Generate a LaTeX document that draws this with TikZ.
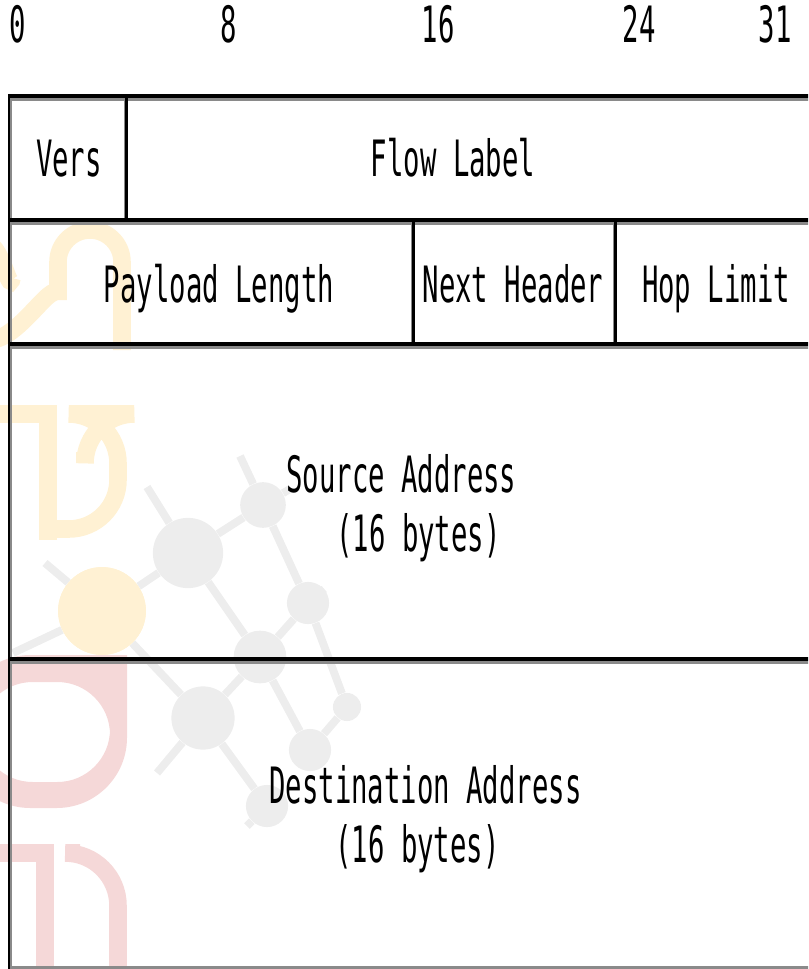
\documentclass[tikz,border=0pt]{standalone}
\usepackage{fontspec}
\newfontfamily\hdrfont[FakeStretch=0.545]{DejaVu Sans Mono}
\definecolor{wmyellow}{HTML}{FFF1D3}
\definecolor{wmred}{HTML}{F5D8D8}
\definecolor{wmgrey}{HTML}{EDEDED}
\definecolor{rulegrey}{HTML}{8A8A8A}
\begin{document}
\begin{tikzpicture}[x=0.02cm,y=-0.02cm,
  txt/.style={font=\hdrfont\fontsize{28.5pt}{34pt}\selectfont, inner sep=0pt},
  wm/.style={line width=10pt},
  net/.style={wmgrey, line width=4.5pt},
  dot/.style={circle, fill=wmgrey, inner sep=0pt}]
\useasboundingbox (0,0) rectangle (808,969);
\clip (0,0) rectangle (808,969);
\draw[wm, wmyellow] (-10,340) to[out=0,in=90] (58,300) -- (58,262) arc[start angle=180, end angle=360, radius=32] -- (122,350);
\draw[wm, wmyellow] (-15,244) to[out=10,in=-100] (12,278);
\draw[wm, wmyellow] (-10,414) -- (48,414) -- (48,540);
\draw[wm, wmyellow, rounded corners=28] (85,452) -- (85,414) -- (118,414) -- (118,529) -- (48,529);
\fill[wmred, even odd rule] (-40,655) -- (127,655) [rounded corners=40] -- (127,808) -- (-40,808) -- cycle [rounded corners=30] (-20,682) rectangle (110,782);
\draw[wm, wmred] (-10,853) -- (45,853) -- (45,990);
\draw[wm, wmred, rounded corners=30] (80,853) -- (118,853) -- (118,990);
\node[dot, minimum size=40] (n1) at (188,553){};
\node[dot, minimum size=26] (n2) at (263,505){};
\node[dot, minimum size=24] (n3) at (308,603){};
\node[dot, minimum size=30] (n4) at (260,657){};
\node[dot, minimum size=36] (n5) at (203,718){};
\node[dot, minimum size=24] (n6) at (310,750){};
\node[dot, minimum size=24] (n7) at (267,806){};
\node[dot, minimum size=16] (n8) at (347,707){};
\coordinate (e1) at (240,456);
\coordinate (e2) at (147,487);
\coordinate (e3) at (13,653);
\coordinate (e4) at (45,563);
\coordinate (e5) at (157,773);
\coordinate (e6) at (247,826);
\coordinate (e7) at (322,591);
\coordinate (e8) at (290,489);
\draw[net](n2) -- (e1);
\draw[net](n1) -- (e2);
\draw[net](n1) -- (n2);
\draw[net](n1) -- (n4);
\draw[net](n2) -- (n3);
\draw[net](n3) -- (n4);
\draw[net](n3) -- (n8);
\draw[net](n4) -- (n5);
\draw[net](n4) -- (n6);
\draw[net](n6) -- (n8);
\draw[net](n5) -- (e5);
\draw[net](n5) -- (n7);
\draw[net](n7) -- (e6);
\draw[net](n3) -- (e7);
\draw[net](n2) -- (e8);
\node[circle, fill=wmyellow, inner sep=0pt, minimum size=50] (y0) at (102,611){};
\draw[net](y0) -- (n1);
\draw[net](y0) -- (n5);
\draw[net](y0) -- (e3);
\draw[net](y0) -- (e4);
\node[circle, fill=wmyellow, inner sep=0pt, minimum size=50] at (102,611){};
\draw[rulegrey, line width=1.7pt] (8,99.5) -- (820,99.5);
\draw[rulegrey, line width=1.7pt] (8,223.5) -- (820,223.5);
\draw[rulegrey, line width=1.7pt] (8,347.5) -- (820,347.5);
\draw[rulegrey, line width=1.7pt] (8,662.5) -- (820,662.5);
\draw[rulegrey, line width=1.2pt] (8,967.5) -- (820,967.5);
\draw[rulegrey, line width=0.9pt] (11,96) -- (11,969);
\draw[rulegrey, line width=0.9pt] (124.5,96) -- (124.5,220);
\draw[rulegrey, line width=0.9pt] (411.5,220) -- (411.5,344);
\draw[rulegrey, line width=0.9pt] (613.5,220) -- (613.5,344);
\draw[line width=2.2pt] (8,96) -- (820,96);
\draw[line width=2.2pt] (8,220) -- (820,220);
\draw[line width=2.2pt] (8,344) -- (820,344);
\draw[line width=2.2pt] (8,659) -- (820,659);
\draw[line width=1.6pt] (9,94) -- (9,969);
\draw[line width=1.5pt] (126.5,96) -- (126.5,220);
\draw[line width=1.5pt] (413.5,220) -- (413.5,344);
\draw[line width=1.5pt] (615.5,220) -- (615.5,344);
\node[txt, anchor=base] (b0) at (18,43){0};
\node[txt, anchor=base] (b8) at (229,43){8};
\node[txt, anchor=base] (b16) at (438,43){16};
\node[txt, anchor=base] (b24) at (639,43){24};
\node[txt, anchor=base] (b31) at (775,43){31};
\node[txt, anchor=base] (vers) at (69,177){Vers};
\node[txt, anchor=base] (flow) at (453,177){Flow Label};
\node[txt, anchor=base] (plen) at (219,302){Payload Length};
\node[txt, anchor=base] (nhdr) at (513,302){Next Header};
\node[txt, anchor=base] (hop) at (716,302){Hop Limit};
\node[txt, anchor=base west] (src) at (286,492){Source Address};
\node[txt, anchor=base west] (srclen) at (336,551){(16 bytes)};
\node[txt, anchor=base west] (dst) at (269,803){Destination Address};
\node[txt, anchor=base west] (dstlen) at (335,862){(16 bytes)};
\end{tikzpicture}
\end{document}
